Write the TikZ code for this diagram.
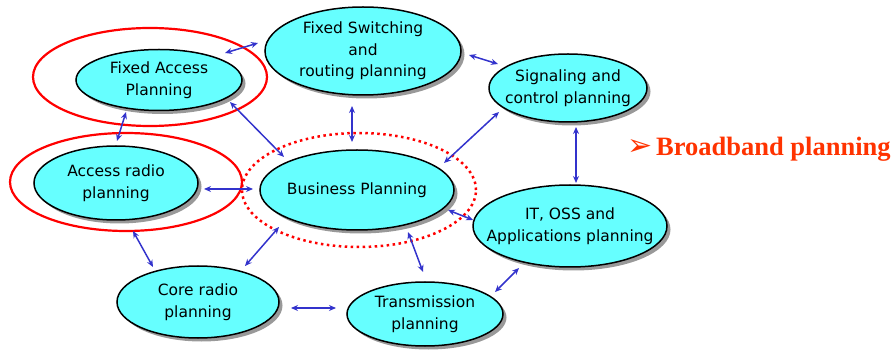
\documentclass[tikz,border=0pt]{standalone}
\usepackage{fontspec}
\setmainfont{DejaVu Sans}
\newfontfamily\bbserif{Liberation Serif}
\newfontfamily\dejavu{DejaVu Sans}
\usetikzlibrary{shapes.geometric,shadows,calc,arrows.meta}
\definecolor{cyanfill}{HTML}{66FFFF}
\definecolor{arrblue}{HTML}{3333CC}
\definecolor{bborange}{HTML}{FF3300}
\begin{document}
\begin{tikzpicture}[x=1pt,y=-1pt,
 plan/.style={ellipse, draw=black, line width=1.5pt, fill=cyanfill, inner sep=0pt,
   drop shadow={shadow xshift=3.5pt, shadow yshift=-3.5pt, fill=black!40, opacity=1}},
 lbl/.style={align=center, inner sep=0pt, font=\fontsize{15.5}{21.5}\selectfont},
 ring/.style={ellipse, draw=red, line width=2.2pt, inner sep=0pt},
 dring/.style={ring, line width=2.5pt, dash pattern=on 2.5pt off 3.5pt},
 link/.style={draw=arrblue, line width=1.5pt, {Stealth[length=7pt,width=6pt]}-{Stealth[length=7pt,width=6pt]}}]
\useasboundingbox (0,0) rectangle (896,352);
% rings
\node[ring, minimum width=234pt, minimum height=98pt] (rfa) at (150,77) {};
\node[ring, minimum width=232pt, minimum height=98pt] (rar) at (126,182) {};
\node[dring, minimum width=234pt, minimum height=114pt] (rbp) at (359,190) {};
% planning nodes
\node[plan, minimum width=166pt, minimum height=61pt, label={[lbl]center:{Fixed Access\\Planning}}] (fa) at (159,80) {};
\node[plan, minimum width=196pt, minimum height=88pt, label={[lbl]center:{Fixed Switching\\and\\routing planning}}] (fs) at (363,51) {};
\node[plan, minimum width=158pt, minimum height=68pt, label={[lbl]center:{Signaling and\\control planning}}] (sc) at (568,88) {};
\node[plan, minimum width=164pt, minimum height=74pt, label={[lbl]center:{Access radio\\planning}}] (ar) at (116,183) {};
\node[plan, minimum width=194pt, minimum height=80pt, label={[lbl]center:{Business Planning}}] (bp) at (357,190) {};
\node[plan, minimum width=194pt, minimum height=82pt, label={[lbl]center:{IT, OSS and\\Applications planning}}] (it) at (570,226) {};
\node[plan, minimum width=162pt, minimum height=72pt, label={[lbl]center:{Core radio\\planning}}] (cr) at (198,302) {};
\node[plan, minimum width=156pt, minimum height=64pt, label={[lbl]center:{Transmission\\planning}}] (tp) at (425,314) {};
% links
\draw[link] ($(fa)+(66,-27)$) -- ($(fs)+(-105,-8)$);
\draw[link] ($(fa)+(-33,32)$) -- ($(ar)+(1,-42)$);
\draw[link] ($(fa)+(71,22)$) -- ($(bp)+(-73,-33)$);
\draw[link] ($(fs)+(-11,55)$) -- ($(bp)+(-5,-48)$);
\draw[link] ($(fs)+(106,4)$) -- ($(sc)+(-70,-24)$);
\draw[link] ($(sc)+(-69,24)$) -- ($(bp)+(87,-27)$);
\draw[link] ($(sc)+(8,39)$) -- ($(it)+(6,-43)$);
\draw[link] ($(ar)+(88,6)$) -- ($(bp)+(-104,-1)$);
\draw[link] ($(bp)+(91,20)$) -- ($(it)+(-97,-6)$);
\draw[link] ($(ar)+(17,48)$) -- ($(cr)+(-45,-35)$);
\draw[link] ($(bp)+(-78,37)$) -- ($(cr)+(47,-36)$);
\draw[link] ($(bp)+(51,42)$) -- ($(tp)+(-2,-42)$);
\draw[link] ($(cr)+(93,6)$) -- ($(tp)+(-89,-6)$);
\draw[link] ($(it)+(-51,42)$) -- ($(tp)+(70,-22)$);
% title
\node[text=bborange, inner sep=0pt, font=\dejavu\fontsize{30}{30}\selectfont] (bullet) at (640,148) {➢};
\node[text=bborange, inner sep=0pt, anchor=west, font=\bbserif\bfseries\fontsize{26.5}{26.5}\selectfont] (bb) at (656,149) {Broadband planning};
\end{tikzpicture}
\end{document}
